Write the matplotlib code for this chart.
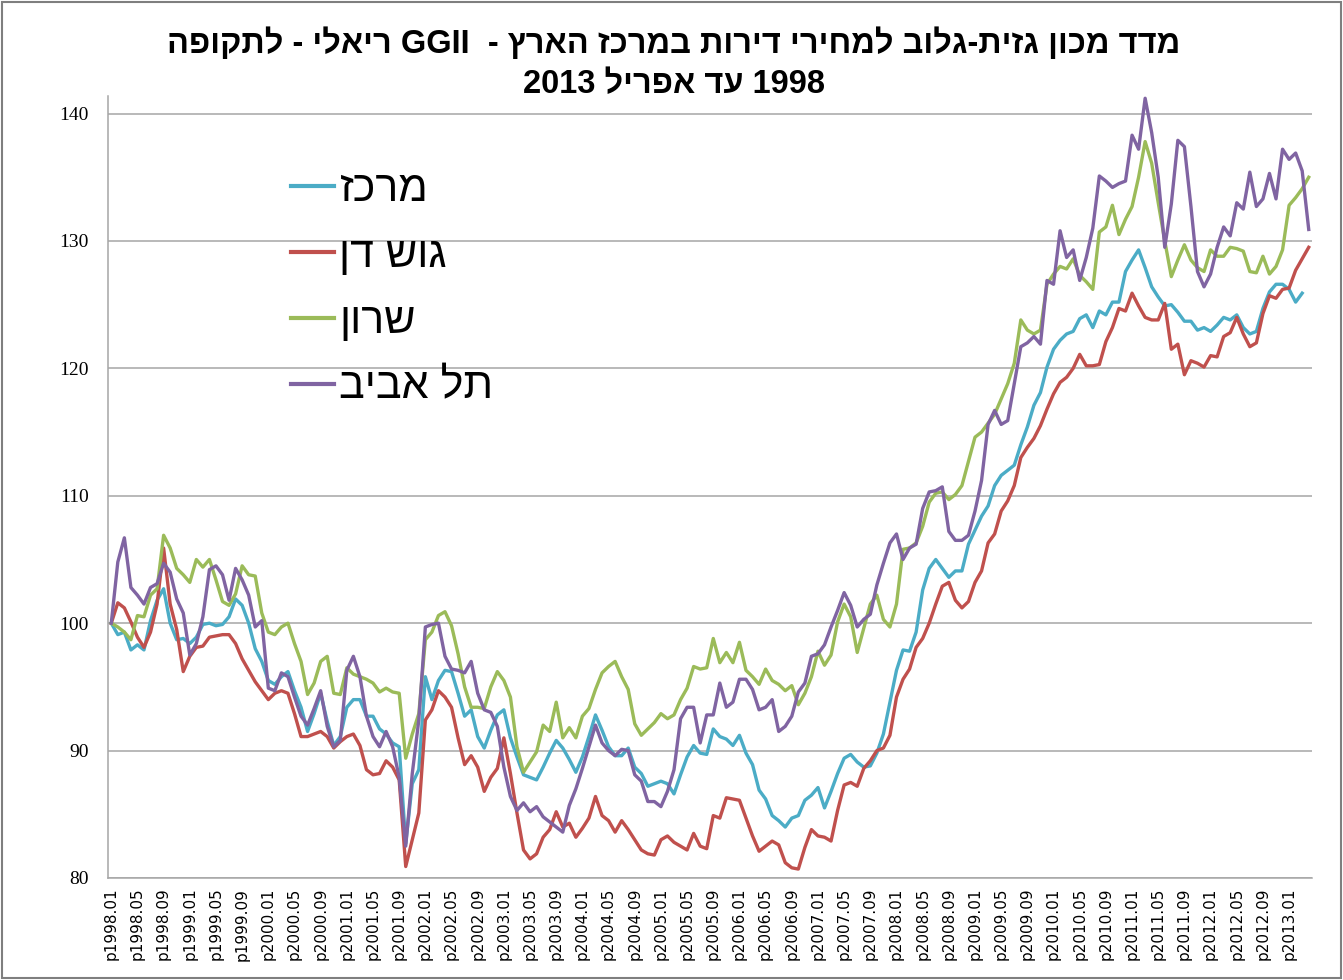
import re
import numpy as np
import matplotlib
matplotlib.use("Agg")
import matplotlib.pyplot as plt
from matplotlib.patches import Rectangle

# monthly index values, 1998.01 .. 2013.04
merkaz = [
    100.0, 99.1, 99.3, 97.9, 98.3, 97.9, 100.2, 101.8, 102.7, 100.0, 98.7, 98.8,
    98.4, 98.9, 99.9, 100.0, 99.8, 99.9, 100.5, 101.9, 101.4, 100.0, 98.0, 97.0,
    95.5, 95.2, 95.8, 96.2, 94.7, 93.4, 91.5, 92.9, 94.5, 92.3, 90.4, 91.1,
    93.4, 94.0, 94.0, 92.7, 92.7, 91.7, 91.3, 90.6, 90.3, 82.7, 87.4, 88.5,
    95.8, 94.0, 95.5, 96.3, 96.2, 94.5, 92.7, 93.2, 91.1, 90.2, 91.6, 92.8,
    93.2, 91.0, 89.5, 88.1, 87.9, 87.7, 88.7, 89.8, 90.8, 90.2, 89.3, 88.3,
    89.5, 91.1, 92.8, 91.6, 90.3, 89.6, 89.6, 90.2, 88.7, 88.2, 87.2, 87.4,
    87.6, 87.4, 86.6, 88.1, 89.5, 90.4, 89.8, 89.7, 91.7, 91.1, 90.9, 90.4,
    91.2, 89.8, 88.9, 86.9, 86.2, 84.9, 84.5, 84.0, 84.7, 84.9, 86.1, 86.5,
    87.1, 85.5, 86.8, 88.2, 89.4, 89.7, 89.1, 88.7, 88.8, 89.8, 91.3, 93.8,
    96.3, 97.9, 97.8, 99.3, 102.6, 104.3, 105.0, 104.3, 103.6, 104.1, 104.1, 106.2,
    107.3, 108.4, 109.2, 110.8, 111.6, 112.0, 112.4, 114.0, 115.4, 117.1, 118.1, 120.1,
    121.5, 122.2, 122.7, 122.9, 123.9, 124.2, 123.2, 124.5, 124.2, 125.2, 125.2, 127.6,
    128.5, 129.3, 127.9, 126.4, 125.6, 124.9, 125.0, 124.4, 123.7, 123.7, 123.0, 123.2,
    122.9, 123.4, 124.0, 123.8, 124.2, 123.2, 122.7, 122.9, 124.7, 126.0, 126.6, 126.6,
    126.2, 125.2, 125.9, np.nan,
]
gush_dan = [
    100.0, 101.6, 101.2, 100.1, 98.9, 98.1, 99.3, 101.5, 105.9, 101.5, 99.5, 96.2,
    97.4, 98.1, 98.2, 98.9, 99.0, 99.1, 99.1, 98.4, 97.2, 96.3, 95.4, 94.7,
    94.0, 94.5, 94.7, 94.5, 92.9, 91.1, 91.1, 91.3, 91.5, 91.1, 90.2, 90.7,
    91.1, 91.3, 90.4, 88.5, 88.1, 88.2, 89.2, 88.7, 87.7, 80.9, 83.0, 85.1,
    92.4, 93.2, 94.7, 94.2, 93.4, 91.0, 88.9, 89.6, 88.7, 86.8, 87.9, 88.6,
    91.0, 88.2, 85.1, 82.2, 81.5, 81.9, 83.2, 83.8, 85.2, 84.0, 84.3, 83.2,
    83.9, 84.7, 86.4, 84.9, 84.5, 83.6, 84.5, 83.8, 83.0, 82.2, 81.9, 81.8,
    83.0, 83.3, 82.8, 82.5, 82.2, 83.5, 82.5, 82.3, 84.9, 84.7, 86.3, 86.2,
    86.1, 84.7, 83.3, 82.1, 82.5, 82.9, 82.6, 81.2, 80.8, 80.7, 82.4, 83.8,
    83.3, 83.2, 82.9, 85.3, 87.3, 87.5, 87.2, 88.6, 89.2, 90.0, 90.2, 91.2,
    94.2, 95.6, 96.4, 98.1, 98.8, 100.0, 101.5, 102.9, 103.2, 101.8, 101.2, 101.7,
    103.2, 104.1, 106.3, 107.0, 108.8, 109.6, 110.8, 113.0, 113.8, 114.5, 115.5, 116.8,
    118.0, 118.9, 119.3, 120.0, 121.1, 120.2, 120.2, 120.3, 122.1, 123.2, 124.7, 124.5,
    125.9, 124.9, 124.0, 123.8, 123.8, 125.1, 121.5, 121.9, 119.5, 120.6, 120.4, 120.1,
    121.0, 120.9, 122.5, 122.8, 124.0, 122.7, 121.7, 122.0, 124.3, 125.7, 125.5, 126.2,
    126.3, 127.7, 128.6, 129.5,
]
sharon = [
    100.0, 99.7, 99.3, 98.7, 100.6, 100.5, 102.2, 102.7, 106.9, 105.9, 104.3, 103.8,
    103.2, 105.0, 104.4, 105.0, 103.4, 101.7, 101.4, 102.3, 104.5, 103.8, 103.7, 100.8,
    99.3, 99.1, 99.7, 100.0, 98.4, 97.0, 94.4, 95.3, 97.0, 97.4, 94.5, 94.4,
    96.5, 96.0, 95.8, 95.6, 95.3, 94.6, 94.9, 94.6, 94.5, 89.4, 91.3, 92.9,
    98.7, 99.3, 100.6, 100.9, 99.8, 97.6, 95.0, 93.4, 93.4, 93.3, 95.0, 96.2,
    95.5, 94.2, 90.3, 88.3, 89.1, 89.9, 92.0, 91.5, 93.8, 91.0, 91.8, 91.0,
    92.7, 93.3, 94.8, 96.1, 96.6, 97.0, 95.8, 94.8, 92.1, 91.2, 91.7, 92.2,
    92.9, 92.5, 92.8, 94.0, 94.9, 96.6, 96.4, 96.5, 98.8, 96.9, 97.7, 96.9,
    98.5, 96.3, 95.8, 95.2, 96.4, 95.5, 95.2, 94.7, 95.1, 93.6, 94.5, 95.8,
    97.8, 96.7, 97.5, 100.1, 101.5, 100.5, 97.7, 99.6, 101.5, 102.2, 100.3, 99.7,
    101.5, 105.8, 105.9, 106.3, 107.6, 109.5, 110.2, 110.3, 109.7, 110.1, 110.8, 112.7,
    114.6, 115.0, 115.7, 116.4, 117.6, 118.8, 120.4, 123.8, 123.0, 122.7, 123.0, 126.6,
    127.4, 128.0, 127.8, 128.6, 127.3, 126.8, 126.2, 130.7, 131.1, 132.8, 130.5, 131.7,
    132.7, 135.0, 137.8, 136.1, 133.0, 130.0, 127.2, 128.5, 129.7, 128.5, 127.9, 127.6,
    129.3, 128.8, 128.8, 129.5, 129.4, 129.2, 127.6, 127.5, 128.8, 127.4, 128.0, 129.3,
    132.8, 133.4, 134.1, 135.0,
]
tel_aviv = [
    100.0, 104.8, 106.7, 102.8, 102.2, 101.5, 102.8, 103.1, 104.7, 104.0, 101.9, 100.8,
    97.5, 98.4, 100.5, 104.2, 104.5, 103.8, 101.8, 104.3, 103.4, 102.2, 99.7, 100.2,
    94.9, 94.7, 96.1, 95.8, 94.2, 92.7, 92.0, 93.3, 94.7, 91.9, 90.3, 90.8,
    96.3, 97.4, 95.8, 92.7, 91.1, 90.3, 91.5, 90.3, 87.9, 82.5, 88.2, 92.4,
    99.7, 99.9, 100.0, 97.4, 96.4, 96.3, 96.1, 97.0, 94.5, 93.2, 93.0, 91.9,
    88.7, 86.4, 85.3, 85.9, 85.2, 85.6, 84.8, 84.4, 84.0, 83.6, 85.7, 87.0,
    88.6, 90.3, 92.0, 90.6, 90.0, 89.6, 90.1, 90.0, 88.1, 87.6, 86.0, 86.0,
    85.6, 86.8, 88.5, 92.5, 93.4, 93.4, 90.6, 92.8, 92.8, 95.3, 93.4, 93.8,
    95.6, 95.6, 94.8, 93.2, 93.4, 94.0, 91.5, 91.9, 92.7, 94.6, 95.3, 97.4,
    97.6, 98.3, 99.7, 101.0, 102.4, 101.4, 99.7, 100.3, 100.7, 103.0, 104.7, 106.3,
    107.0, 105.0, 105.9, 106.2, 109.0, 110.3, 110.4, 110.7, 107.2, 106.5, 106.5, 106.9,
    108.8, 111.2, 115.6, 116.7, 115.6, 115.9, 118.8, 121.7, 122.0, 122.5, 121.9, 126.9,
    126.6, 130.8, 128.7, 129.3, 126.9, 128.7, 131.0, 135.1, 134.7, 134.2, 134.5, 134.7,
    138.3, 137.2, 141.2, 138.5, 135.0, 129.5, 132.9, 137.9, 137.4, 132.7, 127.6, 126.4,
    127.4, 129.5, 131.1, 130.4, 133.0, 132.5, 135.4, 132.7, 133.3, 135.3, 133.3, 137.2,
    136.4, 136.9, 135.5, 130.9,
]

months = [f"p{1998 + k // 12}.{k % 12 + 1:02d}" for k in range(len(gush_dan))]

series_names = ["מרכז", "גוש דן", "שרון", "תל אביב"]
colors = ["#4BACC6", "#C0504D", "#9BBB59", "#8064A2"]

title_lines = ["מדד מכון גזית-גלוב למחירי דירות במרכז הארץ -  GGII ריאלי - לתקופה",
               "1998 עד אפריל 2013"]


def visual(s):
    """crude RTL -> visual order (matplotlib has no bidi support)"""
    r = s[::-1]
    return re.sub(r"[A-Za-z0-9][A-Za-z0-9.]*[A-Za-z0-9]|[A-Za-z0-9]",
                  lambda m: m.group(0)[::-1], r)


HEB = ["Liberation Sans", "DejaVu Sans"]

fig = plt.figure(figsize=(13.43, 9.80), dpi=100)
ax = fig.add_axes([108 / 1343, 1 - 878 / 980, (1312 - 108) / 1343, (878 - 95.7) / 980])

x = np.arange(len(gush_dan))
for vals, name, col in zip([merkaz, gush_dan, sharon, tel_aviv], series_names, colors):
    ax.plot(x, vals, color=col, lw=2.4, label=visual(name), solid_joinstyle="round")

ax.set_xlim(-0.5, len(x) - 0.5)
ax.set_ylim(80, 141.4)
ax.set_yticks(np.arange(80, 141, 10))
ax.yaxis.grid(True, color="#a6a6a6", lw=1.1)
ax.set_axisbelow(True)
ax.set_xticks(x[::4])
ax.set_xticklabels(months[::4], rotation=90, fontsize=11, family="DejaVu Sans",
                   va="top", ha="center")
ax.tick_params(axis="x", length=0, pad=7)
ax.tick_params(axis="y", length=0, pad=14)
for lab in ax.get_yticklabels():
    lab.set_family("Liberation Serif")
    lab.set_fontsize(14)
for s in ["top", "right"]:
    ax.spines[s].set_visible(False)
for s in ["left", "bottom"]:
    ax.spines[s].set_color("#a6a6a6")
    ax.spines[s].set_linewidth(1.1)

leg = ax.legend(loc="upper left", bbox_to_anchor=(166 / 1204, 1 - (153 - 95.7) / 782.3),
                frameon=False, handlelength=1.0, handletextpad=0.12, labelspacing=0.6,
                prop={"family": HEB, "size": 31}, borderaxespad=0)
for line in leg.get_lines():
    line.set_linewidth(3)

fig.text(674 / 1343, 1 - 44 / 980, visual(title_lines[0]), ha="center", va="center",
         fontsize=23.5, fontweight="bold", family=HEB)
fig.text(674 / 1343, 1 - 85 / 980, visual(title_lines[1]), ha="center", va="center",
         fontsize=23.5, fontweight="bold", family=HEB)

fig.patches.append(Rectangle((0.0015, 0.002), 0.997, 0.996, transform=fig.transFigure,
                             fill=False, edgecolor="#7f7f7f", lw=1.5))

fig.savefig("out.png", dpi=100)
